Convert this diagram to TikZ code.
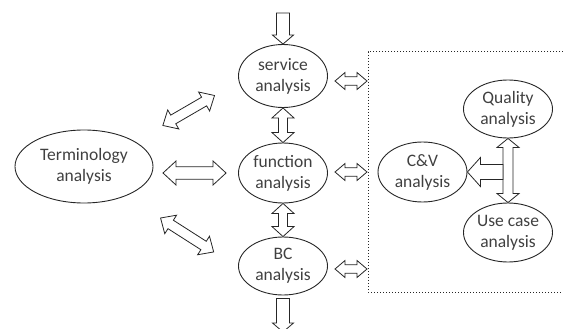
\documentclass[tikz,border=0pt]{standalone}
\usepackage{fontspec}
\setmainfont{Carlito}
\usetikzlibrary{shapes.geometric}
\usetikzlibrary{calc}

\tikzset{
  ana/.style={ellipse,draw=black!85,line width=0.9pt,inner sep=0pt,
    minimum width=89pt,minimum height=60pt,align=center,text=black!75,
    font=\fontsize{17.5}{21}\selectfont},
  shaft/.store in=\shaftw, head/.store in=\headw, headlen/.store in=\headl,
  gapa/.store in=\gapa, gapb/.store in=\gapb,
  shaft=4.5, head=11, headlen=10, gapa=0, gapb=0,
  % hollow arrow, heads at both ends
  flow/.style={draw=black!85,fill=white,line width=0.8pt,to path={
    let \p1=($(\tikztotarget)-(\tikztostart)$),
        \n1={atan2(\y1,\x1)}, \n2={veclen(\x1,\y1)} in
    [shift={(\tikztostart)},rotate=\n1]
    ({\gapa+\headl},\shaftw) -- ({\n2-\gapb-\headl},\shaftw) -- ({\n2-\gapb-\headl},\headw)
    -- ({\n2-\gapb},0) -- ({\n2-\gapb-\headl},-\headw) -- ({\n2-\gapb-\headl},-\shaftw)
    -- ({\gapa+\headl},-\shaftw) -- ({\gapa+\headl},-\headw) -- (\gapa,0)
    -- ({\gapa+\headl},\headw) -- cycle}},
  % hollow arrow, one head
  flowone/.style={draw=black!85,fill=white,line width=0.8pt,to path={
    let \p1=($(\tikztotarget)-(\tikztostart)$),
        \n1={atan2(\y1,\x1)}, \n2={veclen(\x1,\y1)} in
    [shift={(\tikztostart)},rotate=\n1]
    (\gapa,\shaftw) -- ({\n2-\gapb-\headl},\shaftw) -- ({\n2-\gapb-\headl},\headw)
    -- ({\n2-\gapb},0) -- ({\n2-\gapb-\headl},-\headw) -- ({\n2-\gapb-\headl},-\shaftw)
    -- (\gapa,-\shaftw) -- cycle}}
}

\begin{document}
\begin{tikzpicture}[x=1pt,y=-1pt]
  \useasboundingbox (0,0) rectangle (563,329);

  \node[ana,minimum width=138pt,minimum height=73pt] (term) at (84,166.5) {Terminology\\analysis};
  \node[ana,minimum height=63pt] (serv) at (283,76) {service\\analysis};
  \node[ana] (func) at (283,173) {function\\analysis};
  \node[ana,minimum height=58pt] (bc) at (283,266) {BC\\analysis};
  \node[ana,minimum height=58pt] (qual) at (508,109) {Quality\\analysis};
  \node[ana] (cv) at (422.5,172) {C\&V\\analysis};
  \node[ana,minimum height=59pt] (use) at (508,232.5) {Use case\\analysis};

  \coordinate (in) at (283,13);
  \coordinate (out) at (283,332);
  \coordinate (f1) at (367,81);
  \coordinate (f2) at (367,172);
  \coordinate (f3) at (367,269);
  \coordinate (s1) at (327,81);
  \coordinate (s2) at (327,172);
  \coordinate (s3) at (327,269);
  \coordinate (j) at (503,172);
  \coordinate (t1) at (153,173);

  % dotted frame
  \draw[black!85,line width=1pt,dotted] (566,52)--(368,52)--(368,292)--(566,292);

  \draw[flowone,shaft=6.5,head=10.5,headlen=9] (in) to (serv.north);
  \draw[flowone,shaft=6.5,head=10.5,headlen=9,gapa=3] (bc.south) to (out);
  \draw[flow] (serv.south) to (func.north);
  \draw[flow] (func.south) to (bc.north);
  \draw[flow,shaft=6.3,head=12,headlen=13,gapa=10,gapb=12] (t1) to (func.west);
  \draw[flow,shaft=5,head=11,headlen=12,gapa=32,gapb=28] (term.26) to (serv.187);
  \draw[flow,shaft=5,head=11,headlen=12,gapa=41,gapb=29] (term.-35) to (bc.182);

  \draw[flow,shaft=4.2,head=8.5,gapa=8] (s1) to (f1);
  \draw[flow,shaft=4.2,head=8.5,gapa=8] (s2) to (f2);
  \draw[flow,shaft=4.2,head=8.5,gapa=8] (s3) to (f3);

  \draw[flow,shaft=5,head=11,headlen=9] (qual.south) to (use.north);
  \draw[flowone,shaft=7.5,head=14.5,headlen=13] (j) to (cv.east);
\end{tikzpicture}
\end{document}
